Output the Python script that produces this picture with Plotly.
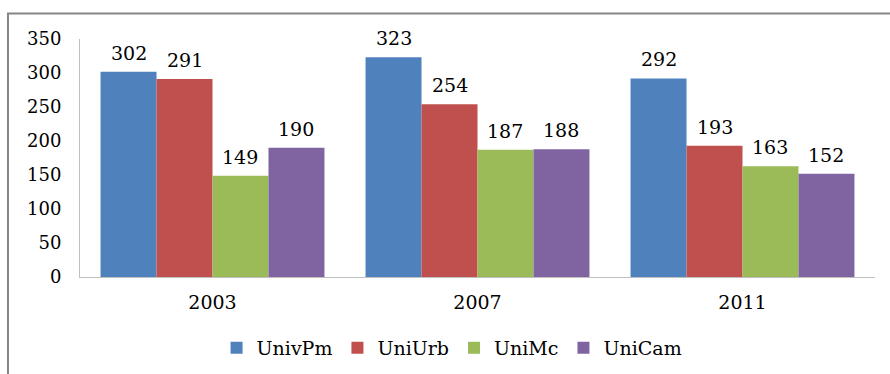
import plotly.graph_objects as go

# Categories (years) and series values
years = ["2003", "2007", "2011"]
univpm = [302, 323, 292]
uniurb = [291, 254, 193]
unimc = [149, 187, 163]
unicam = [190, 188, 152]

series = [
    ("UnivPm", univpm, "#4F81BD"),
    ("UniUrb", uniurb, "#C0504D"),
    ("UniMc", unimc, "#9BBB59"),
    ("UniCam", unicam, "#8064A2"),
]

FONT = "DejaVu Serif"
BARGAP = 0.155

fig = go.Figure()
for name, vals, color in series:
    fig.add_trace(go.Bar(
        x=years, y=vals, name=name,
        marker=dict(color=color, line=dict(width=0)),
    ))

# value labels above each bar, placed at the bar's slot within its group
n = len(series)
slot = (1 - BARGAP) / n
annotations = []
for k, (name, vals, color) in enumerate(series):
    for i, v in enumerate(vals):
        annotations.append(dict(
            x=i + (k - (n - 1) / 2) * slot, y=v, xref="x", yref="y",
            text=str(v), showarrow=False, yanchor="bottom", yshift=6,
            font=dict(family=FONT, size=19, color="#000000"),
        ))

fig.update_layout(
    width=890, height=374,
    margin=dict(l=80, r=15, t=39, b=97, autoexpand=False),
    paper_bgcolor="white", plot_bgcolor="white",
    barmode="group", bargap=BARGAP, bargroupgap=0,
    font=dict(family=FONT, size=18, color="#000000"),
    showlegend=True,
    legend=dict(
        orientation="h", x=0.468, xanchor="center",
        yref="container", y=0.07, yanchor="middle",
        font=dict(family=FONT, size=19, color="#000000"),
        traceorder="normal",
    ),
    xaxis=dict(
        showgrid=False, showline=True, linecolor="#BFBFBF", linewidth=1,
        ticks="", tickfont=dict(family=FONT, size=19), ticklabelstandoff=8,
    ),
    yaxis=dict(
        range=[0, 350], dtick=50, showgrid=False, zeroline=False,
        showline=True, linecolor="#BFBFBF", linewidth=1,
        ticks="", tickfont=dict(family=FONT, size=18), ticklabelstandoff=14,
    ),
    annotations=annotations,
    shapes=[dict(
        type="rect", xref="paper", yref="paper",
        x0=-0.0906, x1=1.03, y0=-0.5, y1=1.107,
        line=dict(color="#868686", width=2), fillcolor="rgba(0,0,0,0)",
        layer="below",
    )],
)

fig.write_html("out.html")
